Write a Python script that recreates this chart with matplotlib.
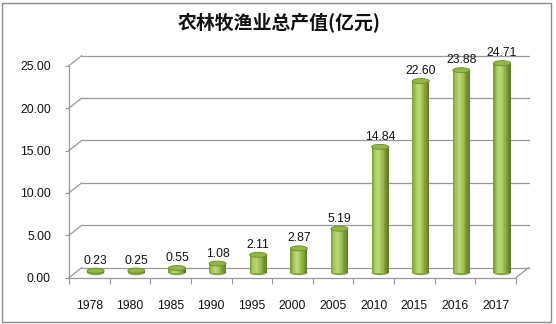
import matplotlib
matplotlib.use("Agg")
import matplotlib.pyplot as plt
import numpy as np
from matplotlib.patches import Rectangle, Ellipse
from matplotlib.colors import LinearSegmentedColormap

years = ["1978", "1980", "1985", "1990", "1995", "2000", "2005", "2010", "2015", "2016", "2017"]
values = [0.23, 0.25, 0.55, 1.08, 2.11, 2.87, 5.19, 14.84, 22.60, 23.88, 24.71]
yticks = [0, 5, 10, 15, 20, 25]
title = "农林牧渔业总产值(亿元)"

W, H, DPI = 556, 324, 100
fig = plt.figure(figsize=(W / DPI, H / DPI), dpi=DPI)
fig.patch.set_facecolor("white")
fig.patches.append(Rectangle((1.5 / W, 2.5 / H), 549 / W, 319 / H, transform=fig.transFigure,
                             fill=False, edgecolor="#8a8a8a", linewidth=1.0))

left_px, right_px = 69, 516
y0_px, y25_px = 277.7, 65.7
ax = fig.add_axes([left_px / W, (H - y0_px) / H, (right_px - left_px) / W, (y0_px - y25_px) / H])
ax.set_xlim(-0.5, len(years) - 0.5)
ax.set_ylim(0, 25)
ax.patch.set_visible(False)

numfont = "Liberation Sans"
gray = "#999999"

# depth offset (pixels) converted to data units
def px_to_data(dx, dy):
    p0 = ax.transData.transform((0, 0))
    q = ax.transData.inverted().transform((p0[0] + dx, p0[1] + dy))
    return q[0], q[1]

ddx, ddy = px_to_data(12.7, 10)
hdx, hdy = ddx / 2, ddy / 2
x_lo, x_hi = -0.5, len(years) - 0.5

# back wall gridlines and left diagonals
for v in yticks:
    ax.plot([x_lo + ddx, x_hi + ddx], [v + ddy, v + ddy], color=gray, lw=0.9, clip_on=False, zorder=1)
    ax.plot([x_lo, x_lo + ddx], [v, v + ddy], color=gray, lw=0.9, clip_on=False, zorder=1)
# floor right diagonal
ax.plot([x_hi, x_hi + ddx], [0, ddy], color=gray, lw=0.9, clip_on=False, zorder=1)

# cylinders
bw = 0.42
ell_h = px_to_data(0, 5)[1]
cmap = LinearSegmentedColormap.from_list("cyl", ["#7a9835", "#a9ca62", "#bcd975", "#a0c158", "#7a9932", "#5f7b24"])
nstrip = 14
for i, v in enumerate(values):
    cx = i + hdx
    by = hdy
    ax.add_patch(Ellipse((cx, by), bw, ell_h, facecolor="#86a63f", edgecolor="none", zorder=3, clip_on=False))
    for k in range(nstrip):
        xs = cx - bw / 2 + k * bw / nstrip
        ax.add_patch(Rectangle((xs, by), bw / nstrip * 1.05, v, facecolor=cmap((k + 0.5) / nstrip),
                               edgecolor="none", zorder=4, clip_on=False))
    ax.add_patch(Ellipse((cx, by + v), bw, ell_h, facecolor="#94b54c", edgecolor="#6d8b2c",
                         linewidth=0.6, zorder=5, clip_on=False))
    ax.annotate(f"{v:.2f}", xy=(cx, v), xytext=(0, 15), textcoords="offset pixels",
                ha="center", va="center", fontsize=8.7, family=numfont, color="#111111", zorder=6,
                annotation_clip=False)

# axes spines/ticks
for s in ["top", "right"]:
    ax.spines[s].set_visible(False)
for s in ["left", "bottom"]:
    ax.spines[s].set_color(gray)
    ax.spines[s].set_linewidth(0.9)
ax.set_yticks(yticks)
ax.set_yticklabels([f"{t:.2f}" for t in yticks], family=numfont, fontsize=8.7, color="#111111")
ax.tick_params(axis="y", direction="out", length=3, width=0.8, color=gray, pad=10)
ax.set_xticks(range(len(years)))
ax.set_xticklabels(years, family=numfont, fontsize=8.7, color="#111111")
ax.tick_params(axis="x", which="major", length=0, pad=16)
ax.set_xticks(np.arange(len(years) + 1) - 0.5, minor=True)
ax.tick_params(axis="x", which="minor", direction="out", length=4, width=0.8, color=gray)

fig.text(279 / W, 1 - 23.5 / H, title, ha="center", va="center", fontsize=13.6,
         family=["Noto Sans CJK SC", "DejaVu Sans"], fontweight="bold", color="#111111")

fig.savefig("out.png", dpi=DPI)
